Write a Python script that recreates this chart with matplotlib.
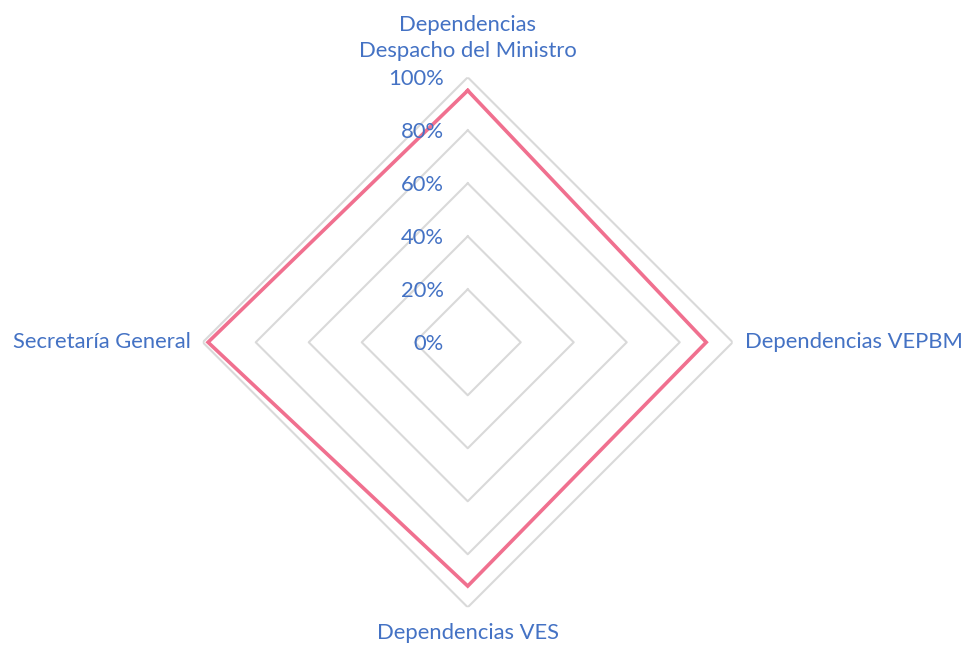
import numpy as np
import matplotlib
matplotlib.use("Agg")
import matplotlib.pyplot as plt
from matplotlib.transforms import ScaledTranslation

categories = ["Dependencias\nDespacho del Ministro", "Dependencias VEPBM",
              "Dependencias VES", "Secretaría General"]
values = [0.95, 0.90, 0.92, 0.98]
ring_levels = [0.2, 0.4, 0.6, 0.8, 1.0]
tick_levels = [0.0, 0.2, 0.4, 0.6, 0.8, 1.0]
tick_labels = ["0%", "20%", "40%", "60%", "80%", "100%"]

TEXT = "#4472C4"
LINE = "#F0708F"
GRID = "#D9D9D9"
plt.rcParams['font.family'] = ['Lato', 'DejaVu Sans']
FS = 15.8

fig = plt.figure(figsize=(9.63, 6.45), dpi=100)
ax = fig.add_axes([0.2105, 0.0585, 0.5504, 0.8217], projection='polar')
ax.set_theta_zero_location('N')
ax.set_theta_direction(-1)
ax.set_ylim(0, 1)
ax.grid(False)
ax.set_xticks([])
ax.set_yticks([])
ax.spines['polar'].set_visible(False)
ax.patch.set_visible(False)

n = len(categories)
angles = np.arange(n) * 2 * np.pi / n
ang_closed = np.concatenate([angles, angles[:1]])

for lv in ring_levels:
    ax.plot(ang_closed, [lv] * (n + 1), color=GRID, lw=1.5, zorder=1)

vals_closed = values + values[:1]
ax.plot(ang_closed, vals_closed, color=LINE, lw=2.6, zorder=3, solid_joinstyle='miter')

off = ax.transData + ScaledTranslation(-0.24, -0.02, fig.dpi_scale_trans)
for lv, lab in zip(tick_levels, tick_labels):
    ax.text(0, lv, lab, transform=off, ha='right', va='center', color=TEXT,
            fontsize=FS, zorder=5)

ax.text(angles[0], 1.062, categories[0], ha='center', va='bottom', color=TEXT,
        fontsize=FS, linespacing=1.35)
ax.text(angles[1], 1.046, categories[1], ha='left', va='center', color=TEXT, fontsize=FS)
ax.text(angles[2], 1.06, categories[2], ha='center', va='top', color=TEXT, fontsize=FS)
ax.text(angles[3], 1.044, categories[3], ha='right', va='center', color=TEXT, fontsize=FS)

fig.savefig("out.png", dpi=100)
